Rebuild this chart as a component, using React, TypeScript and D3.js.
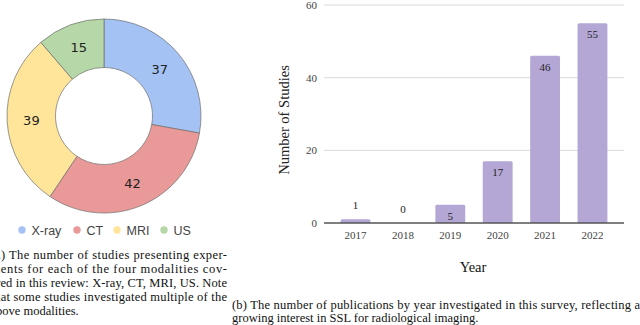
import React, { useEffect, useRef } from "react";
import * as d3 from "d3";

// donut: studies per modality
const modalities = ["X-ray", "CT", "MRI", "US"];
const modalityCounts = [37, 42, 39, 15];
const modalityColors = ["#a4c2f4", "#ea9999", "#ffe599", "#b6d7a8"];

// bars: publications per year
const years = ["2017", "2018", "2019", "2020", "2021", "2022"];
const pubCounts = [1, 0, 5, 17, 46, 55];
const yTicks = [0, 20, 40, 60];

const captionA = [
  "(a) The number of studies presenting exper-",
  "ments for each of the four modalities cov-",
  "ered in this review: X-ray, CT, MRI, US. Note",
  "that some studies investigated multiple of the",
  "above modalities.",
];
const captionB = [
  "(b) The number of publications by year investigated in this survey, reflecting a",
  "growing interest in SSL for radiological imaging.",
];

const W = 640;
const H = 325;

const App = () => {
  const ref = useRef<SVGSVGElement>(null);

  useEffect(() => {
    const svg = d3.select(ref.current);
    svg.selectAll("*").remove();

    // ---- donut ----
    const cx = 104;
    const cy = 116;
    const outerR = 97;
    const innerR = 48.5;

    const pie = d3
      .pie<number>()
      .sort(null)
      .value((d) => d);
    const arc = d3.arc<d3.PieArcDatum<number>>().innerRadius(innerR).outerRadius(outerR);

    const donut = svg.append("g").attr("transform", `translate(${cx},${cy})`);
    const slices = donut.selectAll("g.slice").data(pie(modalityCounts)).enter().append("g");

    slices
      .append("path")
      .attr("d", arc)
      .attr("fill", (d, i) => modalityColors[i])
      .attr("stroke", "#6f6f6f")
      .attr("stroke-width", 0.7);

    slices
      .append("text")
      .attr("transform", (d) => `translate(${arc.centroid(d)})`)
      .attr("text-anchor", "middle")
      .attr("dy", "0.36em")
      .attr("font-family", "DejaVu Sans, sans-serif")
      .attr("font-size", 13)
      .attr("fill", "#222")
      .text((d) => d.data);

    // legend (dot x positions follow the label widths)
    const offsets = [22, 77, 117, 164];
    const legend = svg.append("g").attr("transform", "translate(0,230)");
    const items = legend.selectAll("g").data(modalities).enter().append("g");
    items
      .append("circle")
      .attr("cx", (d, i) => offsets[i])
      .attr("cy", 0)
      .attr("r", 3.7)
      .attr("fill", (d, i) => modalityColors[i]);
    items
      .append("text")
      .attr("x", (d, i) => offsets[i] + 9.5)
      .attr("y", 0)
      .attr("dy", "0.36em")
      .attr("font-family", "Liberation Sans, Arial, sans-serif")
      .attr("font-size", 12.5)
      .attr("fill", "#444")
      .text((d) => d);

    // caption (a), clipped on the left like the page crop
    const capA = svg
      .append("g")
      .attr("font-family", "Liberation Serif, Times New Roman, serif")
      .attr("font-size", 12.5)
      .attr("fill", "#111");
    capA
      .selectAll("text")
      .data(captionA)
      .enter()
      .append("text")
      .attr("x", -9.5)
      .attr("y", (d, i) => 259 + i * 13.9)
      .attr("textLength", (d, i) => (i < captionA.length - 1 ? 236.5 : null))
      .attr("lengthAdjust", "spacing")
      .text((d) => d);

    // ---- bar chart ----
    const left = 324;
    const right = 624;
    const y = d3.scaleLinear().domain([0, 60]).range([223, 5]);
    const x = d3.scaleBand<string>().domain(years).range([left, right]).paddingInner(0.37).paddingOuter(0.35);

    const grid = svg.append("g");
    grid
      .selectAll("line")
      .data(yTicks.filter((t) => t > 0))
      .enter()
      .append("line")
      .attr("x1", left)
      .attr("x2", right)
      .attr("y1", (d) => y(d))
      .attr("y2", (d) => y(d))
      .attr("stroke", "#d9d9d9")
      .attr("stroke-width", 1);

    grid
      .selectAll("text")
      .data(yTicks)
      .enter()
      .append("text")
      .attr("x", 317)
      .attr("y", (d) => y(d))
      .attr("dy", "0.35em")
      .attr("text-anchor", "end")
      .attr("font-family", "Liberation Serif, serif")
      .attr("font-size", 11)
      .attr("fill", "#444")
      .text((d) => d);

    const bars = svg.append("g");
    bars
      .selectAll("path")
      .data(pubCounts)
      .enter()
      .append("path")
      .attr("d", (d, i) => {
        const x0 = x(years[i])!;
        const bw = x.bandwidth();
        const top = y(d);
        const h = y(0) - top;
        if (h <= 0) return "";
        const r = Math.min(1.5, h / 2);
        return `M${x0},${y(0)}V${top + r}Q${x0},${top} ${x0 + r},${top}H${x0 + bw - r}Q${x0 + bw},${top} ${x0 + bw},${top + r}V${y(0)}Z`;
      })
      .attr("fill", "#b4a7d6");

    // value labels: inside the bar top when it fits, else above
    bars
      .selectAll("text")
      .data(pubCounts)
      .enter()
      .append("text")
      .attr("x", (d, i) => x(years[i])! + x.bandwidth() / 2)
      .attr("y", (d) => (d >= 5 ? y(d) + 11 : y(d) - 14))
      .attr("dy", "0.35em")
      .attr("text-anchor", "middle")
      .attr("font-family", "Liberation Serif, serif")
      .attr("font-size", 11)
      .attr("fill", "#222")
      .text((d) => d);

    // baseline
    svg
      .append("line")
      .attr("x1", left)
      .attr("x2", right)
      .attr("y1", y(0))
      .attr("y2", y(0))
      .attr("stroke", "#555")
      .attr("stroke-width", 1.5);

    // x tick labels
    svg
      .append("g")
      .selectAll("text")
      .data(years)
      .enter()
      .append("text")
      .attr("x", (d) => x(d)! + x.bandwidth() / 2)
      .attr("y", 235)
      .attr("dy", "0.35em")
      .attr("text-anchor", "middle")
      .attr("font-family", "Liberation Serif, serif")
      .attr("font-size", 11)
      .attr("fill", "#444")
      .text((d) => d);

    // axis titles
    svg
      .append("text")
      .attr("transform", "translate(289,120) rotate(-90)")
      .attr("text-anchor", "middle")
      .attr("font-family", "Liberation Serif, serif")
      .attr("font-size", 14.5)
      .attr("fill", "#222")
      .text("Number of Studies");

    svg
      .append("text")
      .attr("x", 473)
      .attr("y", 272)
      .attr("text-anchor", "middle")
      .attr("font-family", "Liberation Serif, serif")
      .attr("font-size", 14.5)
      .attr("fill", "#111")
      .text("Year");

    // caption (b)
    const capB = svg
      .append("g")
      .attr("font-family", "Liberation Serif, Times New Roman, serif")
      .attr("font-size", 12.5)
      .attr("fill", "#111");
    capB
      .selectAll("text")
      .data(captionB)
      .enter()
      .append("text")
      .attr("x", 232)
      .attr("y", (d, i) => 309 + i * 13)
      .attr("textLength", (d, i) => (i === 0 ? 408 : null))
      .attr("lengthAdjust", "spacing")
      .text((d) => d);
  }, []);

  return (
    <svg
      ref={ref}
      width={W}
      height={H}
      style={{ position: "fixed", left: 0, top: 0, background: "#fff" }}
    />
  );
};

export default App;
